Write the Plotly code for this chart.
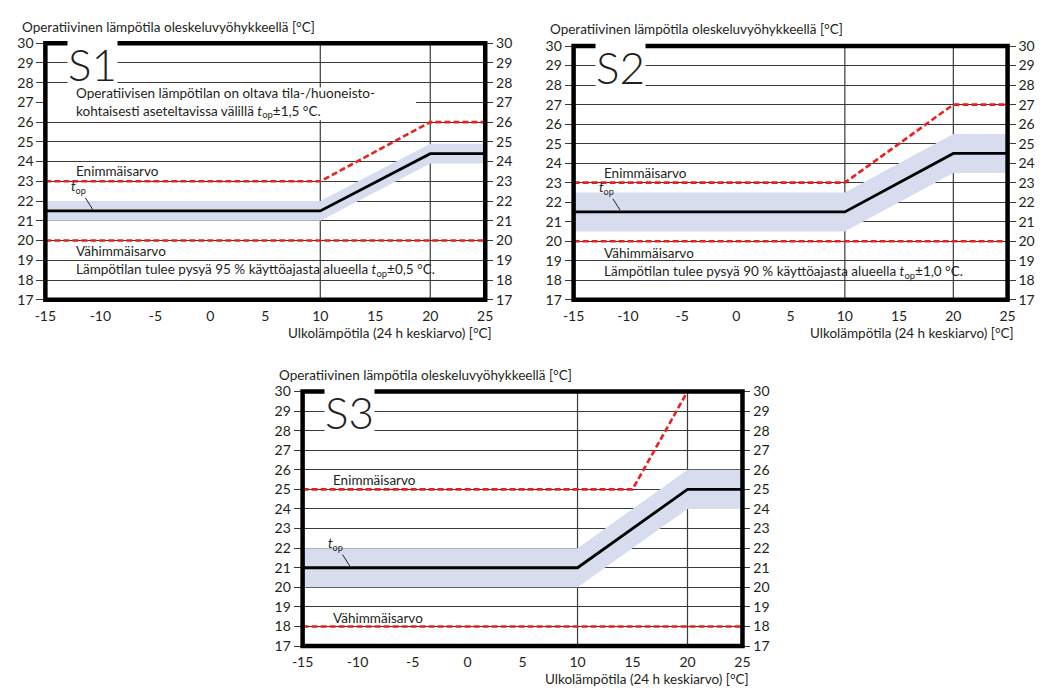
import plotly.graph_objects as go

W, H = 1047, 698

# ---------------- data ----------------
x_ticks = [-15, -10, -5, 0, 5, 10, 15, 20, 25]
y_ticks = [17, 18, 19, 20, 21, 22, 23, 24, 25, 26, 27, 28, 29, 30]
x_range = [-15, 25]
y_range = [17, 30]
vlines = [10, 20]

panel_names = ["S1", "S2", "S3"]

# operative temperature t_op vs outdoor temperature
top_x = [-15, 10, 20, 25]
s1_top = [21.5, 21.5, 24.4, 24.4]
s2_top = [21.5, 21.5, 24.5, 24.5]
s3_top = [21.0, 21.0, 25.0, 25.0]
band_halfwidth = [0.5, 1.0, 1.0]

# maximum value (Enimmäisarvo)
s1_max_x = [-15, 10, 20, 25]
s1_max = [23, 23, 26, 26]
s2_max_x = [-15, 10, 20, 25]
s2_max = [23, 23, 27, 27]
s3_max_x = [-15, 15, 20]
s3_max = [25, 25, 30]

# minimum value (Vähimmäisarvo)
min_x = [-15, 25]
s1_min = [20, 20]
s2_min = [20, 20]
s3_min = [18, 18]

labels_max = "Enimmäisarvo"
labels_min = "Vähimmäisarvo"
y_title = "Operatiivinen lämpötila oleskeluvyöhykkeellä [°C]"
x_title = "Ulkolämpötila (24 h keskiarvo) [°C]"
s1_note_top = "Operatiivisen lämpötilan on oltava tila-/huoneisto-<br>kohtaisesti aseteltavissa välillä <i>t</i><sub>op</sub>±1,5 °C."
s1_note = "Lämpötilan tulee pysyä 95 % käyttöajasta alueella <i>t</i><sub>op</sub>±0,5 °C."
s2_note = "Lämpötilan tulee pysyä 90 % käyttöajasta alueella <i>t</i><sub>op</sub>±1,0 °C."

# label positions (data units)
max_label_y = [23.5, 23.5, 25.47]
min_label_y = [19.45, 19.4, 18.42]

# ---------------- style / layout ----------------
FONT = "Lato"
TXT = "#231f20"
RED = "#e8211f"
BAND = "#d7ddee"
GRID = "#3a3a3a"
FS = 13.5

# panel boxes in pixels: (left, right, top, bottom)
boxes = [(35, 483, 35, 298), (573, 1015, 38, 298), (297, 745, 392, 653)]


def px(x):
    return x / W


def py(y):
    return 1 - y / H


fig = go.Figure()

tops = [s1_top, s2_top, s3_top]
maxs = [(s1_max_x, s1_max), (s2_max_x, s2_max), (s3_max_x, s3_max)]
mins = [s1_min, s2_min, s3_min]

layout = dict(
    width=W, height=H, margin=dict(l=0, r=0, t=0, b=0),
    paper_bgcolor="white", plot_bgcolor="white", showlegend=False,
    font=dict(family=FONT, color=TXT, size=13),
)
shapes = []
annotations = []

for i in range(3):
    n = i + 1
    xa = "x" if n == 1 else f"x{n}"
    ya = "y" if n == 1 else f"y{n}"
    yr = f"y{n + 3}"
    L, R, T, B = boxes[i]
    layout["xaxis" if n == 1 else f"xaxis{n}"] = dict(
        domain=[px(L), px(R)], range=x_range, anchor=ya,
        tickvals=x_ticks, ticktext=[str(v) for v in x_ticks],
        showgrid=False, zeroline=False, showline=False,
        ticks="outside", ticklen=3, tickcolor="rgba(0,0,0,0)",
        tickfont=dict(family=FONT, size=14, color=TXT),
    )
    common_y = dict(
        domain=[py(B), py(T)], range=y_range, tickvals=y_ticks,
        ticktext=[str(v) for v in y_ticks],
        zeroline=False, showline=False, ticks="outside",
        tickcolor=GRID, tickwidth=1.2,
        tickfont=dict(family=FONT, size=14, color=TXT),
    )
    layout["yaxis" if n == 1 else f"yaxis{n}"] = dict(
        anchor=xa, showgrid=True, gridcolor=GRID, gridwidth=1.2, ticklen=8,
        **common_y)
    layout[f"yaxis{n + 3}"] = dict(
        anchor=xa, overlaying=ya, side="right", showgrid=False, ticklen=7,
        **common_y)

    # vertical reference lines
    for v in vlines:
        shapes.append(dict(type="line", xref=xa, yref=ya,
                           x0=v, x1=v, y0=y_range[0], y1=y_range[1],
                           layer="between",
                           line=dict(color=GRID, width=1.2)))

    # band around t_op
    hw = band_halfwidth[i]
    t = tops[i]
    bx = top_x + top_x[::-1]
    by = [v + hw for v in t] + [v - hw for v in t][::-1]
    fig.add_trace(go.Scatter(x=bx, y=by, fill="toself", fillcolor=BAND,
                             line=dict(width=0), mode="lines",
                             xaxis=xa, yaxis=ya, hoverinfo="skip"))
    # min / max dashed lines
    fig.add_trace(go.Scatter(x=min_x, y=mins[i], mode="lines",
                             line=dict(color=RED, width=2.6, dash="6px,3px"),
                             xaxis=xa, yaxis=ya))
    mx, my = maxs[i]
    fig.add_trace(go.Scatter(x=mx, y=my, mode="lines",
                             line=dict(color=RED, width=2.6, dash="6px,3px"),
                             xaxis=xa, yaxis=ya))
    # t_op line
    fig.add_trace(go.Scatter(x=top_x, y=t, mode="lines",
                             line=dict(color="black", width=2.8),
                             xaxis=xa, yaxis=ya))
    # dummy trace for right axis
    fig.add_trace(go.Scatter(x=[None], y=[None], xaxis=xa, yaxis=yr,
                             mode="lines", hoverinfo="skip"))

    # outer frame
    shapes.append(dict(type="rect", xref=f"{xa} domain", yref=f"{ya} domain",
                       x0=0, x1=1, y0=0, y1=1, layer="above",
                       line=dict(color="black", width=4.5)))

    # panel name with white background
    annotations.append(dict(text=panel_names[i], xref=xa, yref=ya,
                            x=-10.7, y=28.95, showarrow=False,
                            font=dict(family=FONT, size=44, color=TXT,
                                      weight=300),
                            bgcolor="white", borderpad=0,
                            xanchor="center", yanchor="middle"))
    # titles
    annotations.append(dict(text=y_title, xref="paper", yref="paper",
                            x=px(L - 26), y=py(T - 17), showarrow=False,
                            xanchor="left", yanchor="middle",
                            font=dict(family=FONT, size=FS, color=TXT)))
    annotations.append(dict(text=x_title, xref="paper", yref="paper",
                            x=px(R + 9), y=py(B + 34), showarrow=False,
                            xanchor="right", yanchor="middle",
                            font=dict(family=FONT, size=FS, color=TXT)))

    # max / min labels
    annotations.append(dict(text=labels_max, xref=xa, yref=ya, x=-12.4,
                            y=max_label_y[i], showarrow=False, xanchor="left",
                            yanchor="middle",
                            font=dict(family=FONT, size=FS, color=TXT)))
    annotations.append(dict(text=labels_min, xref=xa, yref=ya, x=-12.4,
                            y=min_label_y[i], showarrow=False,
                            xanchor="left", yanchor="middle",
                            font=dict(family=FONT, size=FS, color=TXT)))
    # t_op label with leader
    annotations.append(dict(text="<i>t</i><sub>op</sub>", xref=xa, yref=ya,
                            x=-10.7, y=t[0] + 0.08, ax=-14, ay=-22,
                            showarrow=True, arrowhead=0, arrowwidth=1,
                            arrowcolor=TXT, standoff=0, startstandoff=0,
                            font=dict(family=FONT, size=13, color=TXT)))

# panel specific notes
annotations.append(dict(text=s1_note, xref="x", yref="y", x=-12.4, y=18.5,
                        showarrow=False, xanchor="left", yanchor="middle",
                        font=dict(family=FONT, size=FS, color=TXT)))
annotations.append(dict(text=s2_note, xref="x2", yref="y2", x=-12.4, y=18.4,
                        showarrow=False, xanchor="left", yanchor="middle",
                        font=dict(family=FONT, size=FS, color=TXT)))
annotations.append(dict(text=s1_note_top, xref="x", yref="y", x=-12.4,
                        y=27.0, showarrow=False, xanchor="left",
                        yanchor="middle", align="left",
                        font=dict(family=FONT, size=FS, color=TXT)))
# white patch behind the S1 note (hides gridline 27 as in the original)
shapes.append(dict(type="rect", xref="x", yref="y", x0=x_range[0], x1=18.7,
                   y0=26.1, y1=27.75, layer="between",
                   fillcolor="white", line=dict(width=0)))

layout["shapes"] = shapes
layout["annotations"] = annotations
fig.update_layout(**layout)
fig.write_html("out.html",
               config={"displayModeBar": False},
               post_script="document.body.style.margin='0';")
